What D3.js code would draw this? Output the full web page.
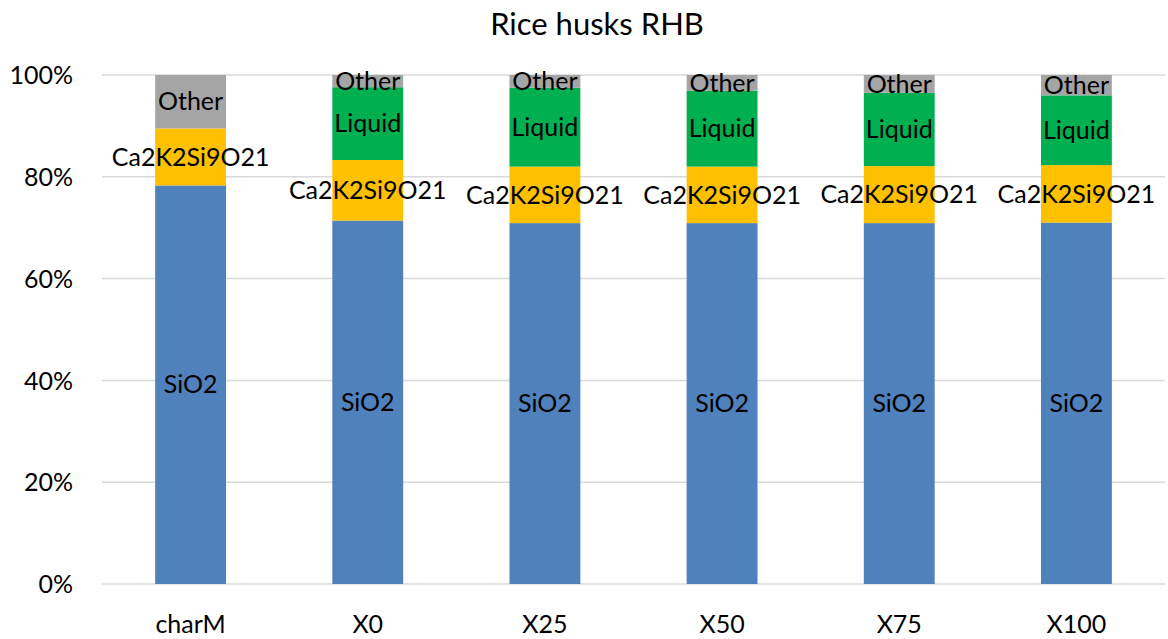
<!DOCTYPE html>
<html>
<head>
<meta charset="utf-8">
<script src="https://cdn.jsdelivr.net/npm/d3@7"></script>
<style>
  html, body { margin: 0; padding: 0; background: #fff; }
  svg text { font-family: Lato, "Open Sans", "Liberation Sans", sans-serif; fill: #000; }
</style>
</head>
<body>
<svg id="chart" width="1168" height="639"></svg>
<script>
// Phase composition of rice husk ash (percent of total)
const categories = ["charM", "X0", "X25", "X50", "X75", "X100"];
const phases = ["SiO2", "Ca2K2Si9O21", "Liquid", "Other"];
const sio2        = [78.3, 71.4, 70.9, 70.9, 70.9, 71.0];
const ca2k2si9o21 = [11.2, 11.9, 11.1, 11.1, 11.2, 11.3];
const liquid      = [0.0, 14.3, 15.5, 14.9, 14.4, 13.7];
const other       = [10.5, 2.4, 2.5, 3.1, 3.5, 4.0];
const yTicks = [0, 20, 40, 60, 80, 100];
const colors = ["#4f81bd", "#ffc000", "#00b050", "#a5a5a5"];

const svg = d3.select("#chart");
const margin = { left: 102, right: 3, top: 75, bottom: 55 };
const W = 1168, H = 639;

const x = d3.scaleBand().domain(categories)
  .range([margin.left, W - margin.right]).paddingInner(0.6).paddingOuter(0.3);
const y = d3.scaleLinear().domain([0, 100]).range([H - margin.bottom, margin.top]);

const rows = categories.map((c, i) => ({
  cat: c, SiO2: sio2[i], Ca2K2Si9O21: ca2k2si9o21[i], Liquid: liquid[i], Other: other[i]
}));
const stacked = d3.stack().keys(phases)(rows);

// gridlines
svg.append("g").selectAll("line").data(yTicks).join("line")
  .attr("x1", margin.left).attr("x2", W - margin.right)
  .attr("y1", d => y(d)).attr("y2", d => y(d))
  .attr("stroke", "#d9d9d9").attr("stroke-width", 1.5);

// y axis labels
const yAxis = d3.axisLeft(y).tickValues(yTicks).tickFormat(d => d + "%").tickSize(0).tickPadding(29);
svg.append("g").attr("transform", `translate(${margin.left},0)`).call(yAxis)
  .call(g => g.select(".domain").remove())
  .call(g => g.selectAll("text").style("font-size", "25px").attr("dy", "0.35em"));

// bars
const layers = svg.append("g").selectAll("g").data(stacked).join("g")
  .attr("fill", (d, i) => colors[i]);
layers.selectAll("rect").data(d => d).join("rect")
  .attr("x", d => x(d.data.cat))
  .attr("width", x.bandwidth())
  .attr("y", d => y(d[1]))
  .attr("height", d => y(d[0]) - y(d[1]));

// segment labels
const labels = svg.append("g");
stacked.forEach(layer => {
  layer.forEach(d => {
    if (d[1] - d[0] <= 0) return;
    labels.append("text")
      .attr("x", x(d.data.cat) + x.bandwidth() / 2)
      .attr("y", (y(d[0]) + y(d[1])) / 2)
      .attr("dy", "0.35em")
      .attr("text-anchor", "middle")
      .style("font-size", "25px")
      .text(layer.key);
  });
});

// x axis labels
const xAxis = d3.axisBottom(x).tickSize(0).tickPadding(31);
svg.append("g").attr("transform", `translate(0,${y(0)})`).call(xAxis)
  .call(g => g.select(".domain").remove())
  .call(g => g.selectAll("text").style("font-size", "25px"));

// title
svg.append("text").attr("x", 597).attr("y", 35).attr("text-anchor", "middle")
  .style("font-size", "31px").text("Rice husks RHB");
</script>
</body>
</html>
